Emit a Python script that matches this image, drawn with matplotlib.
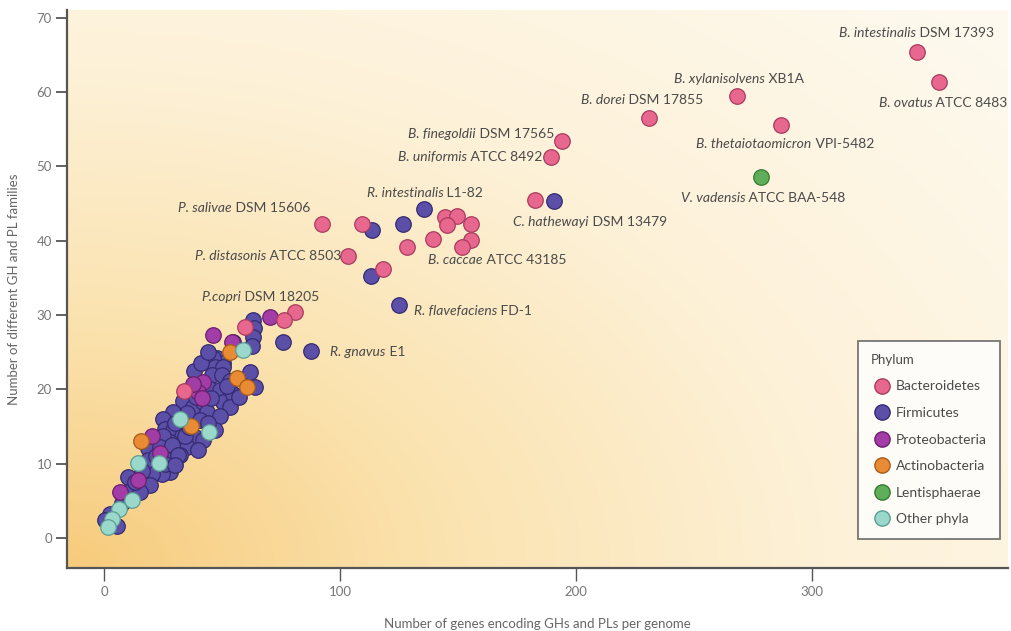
import numpy as np
import matplotlib
matplotlib.use("Agg")
import matplotlib.pyplot as plt
from matplotlib.colors import LinearSegmentedColormap
from matplotlib.transforms import offset_copy

# ---- data ----
phyla = ["Bacteroidetes", "Firmicutes", "Proteobacteria",
         "Actinobacteria", "Lentisphaerae", "Other phyla"]

bact_x = [344.4, 353.9, 268.0, 231.0, 286.7, 193.9, 189.4, 182.6, 92.2, 109.2,
          144.5, 149.4, 145.2, 155.3, 155.3, 151.5, 139.5, 128.2, 103.5, 118.3,
          80.9, 76.3, 59.7, 33.8]
bact_y = [65.4, 61.4, 59.4, 56.5, 55.5, 53.4, 51.3, 45.5, 42.3, 42.3,
          43.2, 43.3, 42.1, 42.2, 40.1, 39.2, 40.2, 39.2, 38.0, 36.2,
          30.4, 29.3, 28.4, 19.8]

firm_x = [190.7, 135.7, 126.5, 113.4, 113.0, 125.1, 87.5, 75.9,
          63.0, 63.5, 63.0, 62.6, 54.7, 47.7, 50.5, 46.3, 47.0, 50.6, 45.6, 49.9,
          53.4, 61.9, 64.0, 44.9, 49.2, 33.6, 37.8, 42.1, 50.6, 54.8, 53.4, 29.4,
          35.0, 43.5, 49.2, 40.7, 47.0, 25.1, 25.8, 29.4, 32.9, 38.6, 42.1, 22.3,
          28.0, 35.0, 40.0, 32.2, 18.8, 25.1, 34.3, 23.7, 28.7, 27.2, 31.5, 28.0,
          24.4, 20.2, 10.3, 19.5, 10.3, 15.3, 7.5, 2.5, 0.4, 5.4, 18.8,
          38.0, 41.0, 44.0, 52.0, 57.0, 45.5, 39.0, 36.0, 44.0, 30.0, 22.0,
          26.0, 30.0, 16.0, 13.0]
firm_y = [45.4, 44.2, 42.3, 41.4, 35.3, 31.3, 25.2, 26.4,
          29.4, 28.2, 27.1, 25.9, 26.4, 24.2, 23.5, 24.2, 23.0, 23.0, 21.9, 21.9,
          21.2, 22.4, 20.3, 20.1, 19.9, 18.5, 17.6, 18.3, 18.3, 19.4, 17.6, 17.0,
          16.8, 17.0, 16.5, 15.9, 14.5, 16.1, 14.7, 14.5, 13.8, 13.6, 13.2, 13.2,
          12.9, 12.3, 11.8, 11.2, 12.2, 13.8, 13.8, 12.3, 12.5, 10.5, 11.2, 8.9,
          8.7, 8.7, 8.2, 7.1, 6.2, 6.2, 4.7, 3.3, 2.4, 1.7, 10.5,
          22.5, 23.5, 25.0, 20.5, 19.0, 18.8, 19.0, 15.0, 15.5, 15.5, 11.0,
          10.0, 9.8, 9.0, 7.5]

prot_x = [46.3, 54.1, 70.3, 42.1, 40.0, 37.8, 20.2, 23.7, 14.5, 6.8, 41.5]
prot_y = [27.3, 26.4, 29.8, 21.0, 19.7, 20.8, 13.8, 11.4, 7.8, 6.2, 18.8]

actino_x = [53.4, 56.2, 60.5, 36.7, 15.5]
actino_y = [25.1, 21.5, 20.3, 15.1, 13.1]

lenti_x = [278.3]
lenti_y = [48.6]

other_x = [58.8, 32.2, 44.4, 14.5, 23.4, 11.7, 6.3, 3.3, 1.5]
other_y = [25.3, 16.1, 14.3, 10.1, 10.1, 5.1, 3.9, 2.6, 1.5]

# strain labels: (italic part, plain part, x, y, ha)
labels = [
    ("B. intestinalis", "DSM 17393", 344.4, 67.9, "center"),
    ("B. ovatus", "ATCC 8483", 355.5, 58.5, "center"),
    ("B. xylanisolvens", "XB1A", 269.0, 61.7, "center"),
    ("B. dorei", "DSM 17855", 228.0, 58.9, "center"),
    ("B. thetaiotaomicron", "VPI-5482", 288.6, 53.0, "center"),
    ("V. vadensis", "ATCC BAA-548", 279.2, 45.7, "center"),
    ("B. finegoldii", "DSM 17565", 190.7, 54.4, "right"),
    ("B. uniformis", "ATCC 8492", 185.6, 51.2, "right"),
    ("C. hathewayi", "DSM 13479", 173.3, 42.5, "left"),
    ("P. salivae", "DSM 15606", 87.3, 44.4, "right"),
    ("R. intestinalis", "L1-82", 136.0, 46.4, "center"),
    ("P. distasonis", "ATCC 8503", 100.4, 38.0, "right"),
    ("B. caccae", "ATCC 43185", 137.3, 37.4, "left"),
    ("P.copri", "DSM 18205", 66.1, 32.5, "center"),
    ("R. flavefaciens", "FD-1", 131.4, 30.6, "left"),
    ("R. gnavus", "E1", 95.8, 25.1, "left"),
]

colors = ["#e8678f", "#5b4fa8", "#a23ca6", "#e98b35", "#5fae5a", "#9ad8cc"]
edges = ["#a83c5e", "#342b72", "#6a1f6e", "#a65b18", "#357a31", "#5c9c90"]

plt.rcParams["font.family"] = "Lato"
txt = "#4a4a4a"

fig = plt.figure(figsize=(10.11, 6.31), dpi=100)
ax = fig.add_axes([0.0663, 0.0998, 0.9307, 0.8842])
xlim = (-15.7, 383)
ylim = (-4, 71)
ax.set_xlim(*xlim)
ax.set_ylim(*ylim)

# background gradient: warm orange at lower left fading to cream
u, v = np.meshgrid(np.linspace(0, 1, 400), np.linspace(0, 1, 300))
d = np.sqrt((u * 1.0) ** 2 + (v * 0.9) ** 2) / np.sqrt(1.81)
cmap = LinearSegmentedColormap.from_list(
    "bg", [(0, "#f7cb7c"), (0.3, "#fbe3b0"), (0.6, "#fdf1d8"), (1, "#fefaf0")])
ax.imshow(d, origin="lower", extent=[*xlim, *ylim], aspect="auto",
          cmap=cmap, vmin=0, vmax=1, zorder=0)

series = [(firm_x, firm_y, 1), (prot_x, prot_y, 2), (actino_x, actino_y, 3),
          (other_x, other_y, 5), (bact_x, bact_y, 0), (lenti_x, lenti_y, 4)]
for xs, ys, i in series:
    ax.scatter(xs, ys, s=125, c=colors[i], edgecolors=edges[i],
               linewidths=0.9, zorder=3)

# labels: italic species name + upright strain, placed as one line
renderer = fig.canvas.get_renderer()
for it, plain, x, y, ha in labels:
    t1 = ax.text(x, y, it, style="italic", ha="left", va="center",
                 fontsize=10, color=txt, zorder=4)
    t2 = ax.text(x, y, " " + plain, ha="left", va="center",
                 fontsize=10, color=txt, zorder=4)
    w1 = t1.get_window_extent(renderer).width
    w2 = t2.get_window_extent(renderer).width
    shift = {"left": 0, "center": -(w1 + w2) / 2, "right": -(w1 + w2)}[ha]
    t1.set_transform(offset_copy(ax.transData, fig, x=shift, y=0, units="dots"))
    t2.set_transform(offset_copy(ax.transData, fig, x=shift + w1, y=0, units="dots"))

for sp in ["top", "right"]:
    ax.spines[sp].set_visible(False)
for sp in ["left", "bottom"]:
    ax.spines[sp].set_color("#555555")
    ax.spines[sp].set_linewidth(1.6)

ax.set_xticks([0, 100, 200, 300])
ax.set_yticks(range(0, 71, 10))
ax.tick_params(axis="y", direction="out", length=8, width=1.3,
               colors="#555555", labelcolor="#777777", labelsize=9.5, pad=3)
ax.tick_params(axis="x", direction="out", length=9, width=1.0,
               colors="#555555", labelcolor="#777777", labelsize=9.5, pad=4)

ax.set_xlabel("Number of genes encoding GHs and PLs per genome",
              fontsize=9.5, color="#666666", labelpad=14)
ax.set_ylabel("Number of different GH and PL families",
              fontsize=9.5, color="#666666", labelpad=12)

handles = [plt.Line2D([], [], marker="o", ls="", markersize=11,
                      markerfacecolor=colors[i], markeredgecolor=edges[i])
           for i in range(len(phyla))]
leg = ax.legend(handles, phyla, title="Phylum", loc="upper left",
                bbox_to_anchor=(0.833, 0.42), frameon=True, fancybox=False,
                fontsize=10, title_fontsize=9.5, handletextpad=0.2,
                handlelength=1.6, labelspacing=1.05, borderpad=0.95,
                alignment="left")
leg.get_frame().set_edgecolor("#555555")
leg.get_frame().set_linewidth(1.3)
leg.get_frame().set_facecolor("white")
leg.get_title().set_color(txt)
for t in leg.get_texts():
    t.set_color(txt)

fig.savefig("out.png", dpi=100)
